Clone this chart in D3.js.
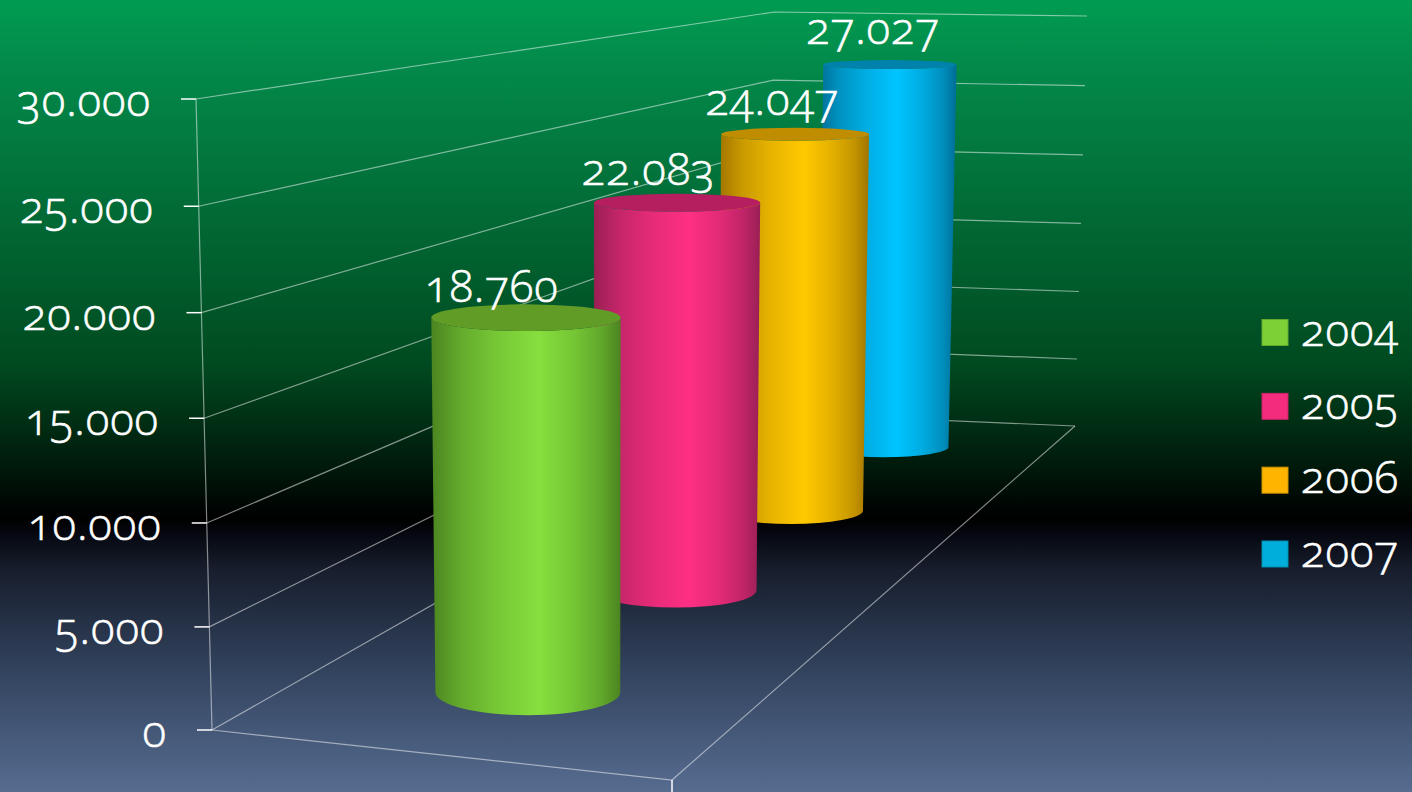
<!DOCTYPE html>
<html><head><meta charset="utf-8">
<script src="https://cdn.jsdelivr.net/npm/d3@7"></script>
<style>
html,body{margin:0;padding:0;background:#000;overflow:hidden}
text{font-family:"Open Sans",Lato,sans-serif;font-weight:300;letter-spacing:.9px;font-feature-settings:"onum" 1,"lnum" 0;font-variant-numeric:oldstyle-nums;fill:#fff;stroke:#fff;stroke-width:.6px}
</style></head><body>
<svg id="c" width="1412" height="792"></svg>
<script>
const years = ["2004","2005","2006","2007"];
const values = [18760,22083,24047,27027];
const axisTicks = [0,5000,10000,15000,20000,25000,30000];
const brightColors = ["#85df3d","#ff2f84","#ffc900","#00c4ff"];
const edgeColors = ["#4b8420","#9a1f55","#a07400","#006d94"];
const capColors = ["#619c27","#b51f5f","#c08c00","#0082ac"];
const legendColors = ["#7dd136","#f32c7e","#ffb500","#00aedc"];

const W=1412,H=792;
const svg=d3.select("#c");
const defs=svg.append("defs");
const bg=defs.append("linearGradient").attr("id","bg").attr("x1",0).attr("x2",0).attr("y1",0).attr("y2",1);
[[0,"#009c51"],[.08,"#038a4b"],[.46,"#004a20"],[.655,"#000000"],[.672,"#05070f"],[.72,"#171e2d"],[.85,"#33445f"],[1,"#566c90"]]
 .forEach(s=>bg.append("stop").attr("offset",s[0]).attr("stop-color",s[1]));
svg.append("rect").attr("width",W).attr("height",H).attr("fill","url(#bg)");

const fmt=d3.formatLocale({decimal:",",thousands:".",grouping:[3],currency:["",""]}).format(",d");

// plot box: depth u along the floor, lateral v across it, value t up the wall
const valueT=d3.scaleLinear().domain([0,30000]).range([0,1]);
const depth=d3.scaleBand().domain(years).range([0,1]);
const frontX=d3.scaleLinear().range([212,672]), frontY=d3.scaleLinear().range([730,780]);
const backX=d3.scaleLinear().range([770,1075]), backY=d3.scaleLinear().range([413,426]);
const frontH=d3.scaleLinear().range([631,669]), backH=d3.scaleLinear().range([401,410]);
const vp=[608,16350], rise=0.024, radius=0.153;
const laneV=u=>0.49+0.012*u;

function floorPt(u,v){
  const z0=1/frontH(v), z1=1/backH(v);
  const a=(1-u)*z0, b=u*z1, f=b/(a+b);
  return {x:frontX(v)+(backX(v)-frontX(v))*f, y:frontY(v)+(backY(v)-frontY(v))*f, h:1/(a+b)};
}
function project(u,v,val){
  const p=floorPt(u,v), t=valueT(val), s=t/(1+rise*(1-t)), d=p.h*s;
  return {x:p.x+(p.x-vp[0])*d/(vp[1]-p.y), y:p.y-d, h:p.h};
}
const line=d3.line().x(d=>d.x).y(d=>d.y);
const grid=svg.append("g").attr("fill","none").attr("stroke","#fff").attr("stroke-opacity",.5).attr("stroke-width",1.2);
axisTicks.forEach(v=>{
  grid.append("path").attr("d",line([project(0,0,v),project(1,0,v),project(1,1,v)]));
});
grid.append("path").attr("d",line([project(0,0,0),project(0,0,30000)]));
grid.append("path").attr("d",line([project(0,0,0),project(0,1,0),project(1,1,0)]));
svg.append("path").attr("d",line([project(0,1,0),{x:project(0,1,0).x,y:H}])).attr("stroke","#fff").attr("stroke-width",1.5);

// axis ticks and labels
const axisG=svg.append("g");
axisTicks.forEach(v=>{
  const p=project(0,0,v);
  axisG.append("line").attr("x1",p.x-15).attr("x2",p.x).attr("y1",p.y).attr("y2",p.y).attr("stroke","#fff").attr("stroke-width",1.5);
  axisG.append("text").attr("x",p.x-45).attr("y",p.y+17).attr("text-anchor","end").attr("font-size",44).text(fmt(v));
});

function ratio(y){return 0.000291*(y+166);}
const order=d3.range(years.length).reverse();
order.forEach(i=>{
  const yr=years[i], u=depth(yr)+depth.bandwidth()/2, lane=laneV(u);
  const b=project(u,lane,0), t=project(u,lane,values[i]);
  const rb=radius*b.h, rt=rb*(vp[1]-t.y)/(vp[1]-b.y);
  const ryb=rb*ratio(b.y)*(1.02-0.16*u), ryt=rt*ratio(t.y);
  const g=defs.append("linearGradient").attr("id","g"+yr).attr("x1",0).attr("x2",1).attr("y1",0).attr("y2",0);
  const mix=d3.interpolateRgb(edgeColors[i],brightColors[i]);
  [[0,0],[.15,.42],[.35,.75],[.57,1],[.75,.72],[.9,.38],[1,0]].forEach(s=>g.append("stop").attr("offset",s[0]).attr("stop-color",mix(s[1])));
  svg.append("path")
    .attr("d",`M${t.x-rt},${t.y}L${b.x-rb},${b.y}A${rb},${ryb} 0 0 0 ${b.x+rb},${b.y}L${t.x+rt},${t.y}A${rt},${ryt} 0 0 1 ${t.x-rt},${t.y}Z`)
    .attr("fill",`url(#g${yr})`);
  svg.append("ellipse").attr("cx",t.x).attr("cy",t.y).attr("rx",rt).attr("ry",ryt).attr("fill",capColors[i]);
});
// value labels on top
years.forEach((yr,i)=>{
  const u=depth(yr)+depth.bandwidth()/2, t=project(u,laneV(u),values[i]);
  svg.append("text").attr("x",t.x-37+23*u).attr("y",t.y-15-6*u).attr("text-anchor","middle").attr("font-size",44).text(fmt(values[i]));
});
// legend
const legendY=d3.scalePoint().domain(years).range([319.5,541]);
years.forEach((yr,i)=>{
  const y=legendY(yr);
  svg.append("rect").attr("x",1262).attr("y",y).attr("width",26).attr("height",26).attr("fill",legendColors[i]).attr("stroke",d3.color(legendColors[i]).darker(.6)).attr("stroke-width",1);
  svg.append("text").attr("x",1301).attr("y",y+26).attr("font-size",44).text(yr);
});
</script>
</body></html>
